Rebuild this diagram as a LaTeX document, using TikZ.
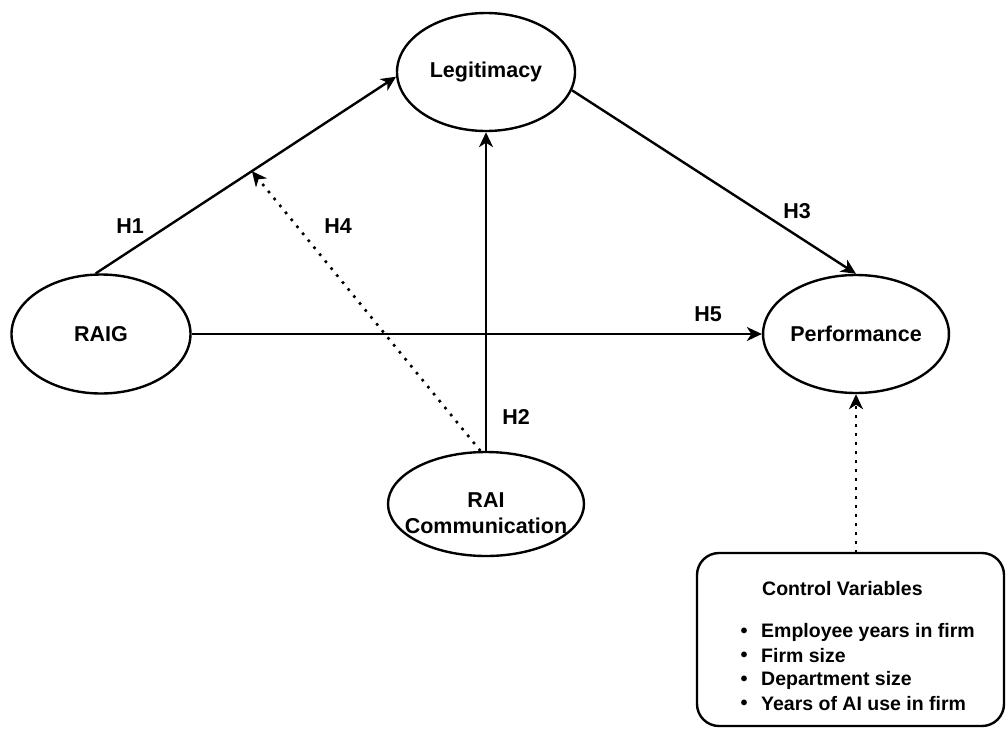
\documentclass[tikz,border=0pt]{standalone}
\usepackage{fontspec}
\setmainfont{Liberation Sans}
\usetikzlibrary{shapes.geometric,arrows.meta,calc}
\begin{document}
\begin{tikzpicture}[x=1pt,y=-1pt,
  construct/.style={draw, ellipse, line width=2.4pt, inner sep=0pt, font=\fontsize{21.5}{25}\selectfont\bfseries},
  lbl/.style={inner sep=0pt, font=\fontsize{21.5}{26}\selectfont\bfseries},
  ctext/.style={inner sep=0pt, anchor=west, font=\fontsize{19.5}{23}\selectfont\bfseries},
  bul/.style={inner sep=0pt, font=\fontsize{20}{22}\selectfont\bfseries},
  link/.style={line width=2.4pt, -{Stealth[length=15pt,width=14pt,inset=4.5pt]}},
  dotlink/.style={line width=2.6pt, dash pattern=on 2.6pt off 6.4pt, -{Stealth[length=15pt,width=14pt,inset=4.5pt]}}
]
\useasboundingbox (0,0) rectangle (1006,728);
\fill[white] (0,0) rectangle (1006,728);

\node[construct, minimum width=178pt, minimum height=118pt] (legit) at (486,72) {Legitimacy};
\node[construct, minimum width=179pt, minimum height=119pt] (raig) at (101,334) {RAIG};
\node[construct, minimum width=178pt, minimum height=118pt] (perf) at (856,334) {Performance};
\node[construct, minimum width=196pt, minimum height=104pt] (raic) at (486,504) {};
\node[lbl, align=center] (raictext) at (486,513) {RAI\\Communication};

\draw[line width=2.4pt, rounded corners=22pt] (697,553) rectangle (1004,726);
\coordinate (ctrl) at (856,553);
\node[ctext] (ctitle) at (762,589) {Control Variables};
\node[bul] (b1) at (744,633) {•};
\node[ctext] (t1) at (761,632) {Employee years in firm};
\node[bul] (b2) at (744,657) {•};
\node[ctext] (t2) at (761,656) {Firm size};
\node[bul] (b3) at (744,681) {•};
\node[ctext] (t3) at (761,680) {Department size};
\node[bul] (b4) at (744,705) {•};
\node[ctext] (t4) at (761,704) {Years of AI use in firm};

% connectors
\draw[link] (raig.95) -- coordinate[pos=0.52] (h4end) (legit.183);
\draw[link] (raic.north) -- (legit.south);
\draw[link] (legit.-12) -- (perf.north);
\draw[link] (raig.east) -- (perf.west);
\draw[dotlink] (raic.96) -- (h4end);
\draw[dotlink] (ctrl) -- (perf.south);

% labels
\node[lbl] (h1) at (130,226) {H1};
\node[lbl] (h2) at (516,417) {H2};
\node[lbl] (h3) at (797,211) {H3};
\node[lbl] (h4) at (338,226) {H4};
\node[lbl] (h5) at (708,314) {H5};
\end{tikzpicture}
\end{document}
